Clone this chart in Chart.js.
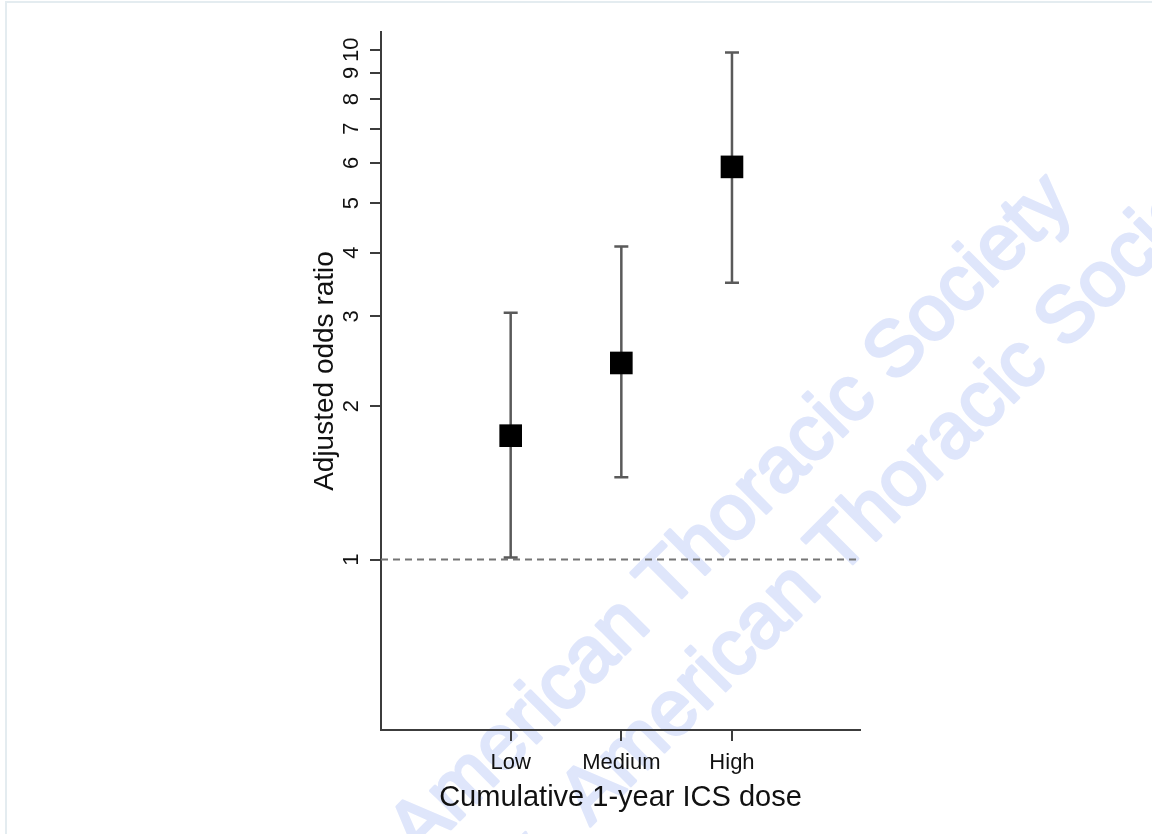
<!DOCTYPE html>
<html>
<head>
<meta charset="utf-8">
<script src="https://cdn.jsdelivr.net/npm/chart.js@4/dist/chart.umd.min.js"></script>
<style>
  html, body { margin: 0; padding: 0; background: #ffffff; }
  #wrap { position: relative; width: 1152px; height: 834px; }
  canvas { display: block; }
</style>
</head>
<body>
<div id="wrap"><canvas id="c" width="1152" height="834"></canvas></div>
<script>
// ---- data ----
const categories = ['Low', 'Medium', 'High'];
const categoryPositions = [1, 2, 3];
const oddsRatio = [1.75, 2.43, 5.89];
const ciLower = [1.01, 1.45, 3.49];
const ciUpper = [3.05, 4.11, 9.87];
const yTickValues = [1, 2, 3, 4, 5, 6, 7, 8, 9, 10];
const referenceValue = 1;
const xRange = [-0.172, 4.157];
const yRange = [0.4633, 10.83];
const xTitle = 'Cumulative 1-year ICS dose';
const yTitle = 'Adjusted odds ratio';
const watermarkText = 'American Thoracic Society';

const FONT = '"Liberation Sans", Arial, Helvetica, sans-serif';
const AXIS_COLOR = '#3c3c3c';
const BAR_COLOR = '#5a5a5a';

const watermarkPlugin = {
  id: 'watermark',
  beforeDraw(chart) {
    const ctx = chart.ctx;
    ctx.save();
    // faint page frame
    ctx.strokeStyle = '#e4ecf0';
    ctx.lineWidth = 2;
    ctx.beginPath();
    ctx.moveTo(6, 834); ctx.lineTo(6, 2); ctx.lineTo(1152, 2);
    ctx.stroke();
    ctx.fillStyle = '#dfe6fb';
    ctx.strokeStyle = '#dfe6fb';
    ctx.lineWidth = 3;
    ctx.lineJoin = 'round';
    ctx.font = '78px ' + FONT;
    ctx.textAlign = 'center';
    ctx.textBaseline = 'middle';
    const w = ctx.measureText(watermarkText).width;
    const lines = [
      { cx: 732, cy: 517, reps: [0] },
      { cx: 903, cy: 483, reps: [0, -1] }
    ];
    lines.forEach(l => {
      ctx.save();
      ctx.translate(l.cx, l.cy);
      ctx.rotate(-Math.PI / 4);
      l.reps.forEach(r => {
        ctx.fillText(watermarkText, r * (w + 50), 0);
        ctx.strokeText(watermarkText, r * (w + 50), 0);
      });
      ctx.restore();
    });
    ctx.restore();
  }
};

const errorBarPlugin = {
  id: 'errorBars',
  beforeDatasetsDraw(chart) {
    const ctx = chart.ctx;
    const xs = chart.scales.x, ys = chart.scales.y;
    const area = chart.chartArea;
    ctx.save();
    // reference line
    ctx.strokeStyle = '#757575';
    ctx.lineWidth = 2;
    ctx.setLineDash([7, 5]);
    const yr = ys.getPixelForValue(referenceValue);
    ctx.beginPath();
    ctx.moveTo(area.left, yr);
    ctx.lineTo(area.right, yr);
    ctx.stroke();
    ctx.setLineDash([]);
    // error bars
    ctx.strokeStyle = BAR_COLOR;
    ctx.lineWidth = 2.5;
    categoryPositions.forEach((p, i) => {
      const x = xs.getPixelForValue(p);
      const yl = ys.getPixelForValue(ciLower[i]);
      const yu = ys.getPixelForValue(ciUpper[i]);
      ctx.beginPath();
      ctx.moveTo(x, yl); ctx.lineTo(x, yu);
      ctx.moveTo(x - 7, yl); ctx.lineTo(x + 7, yl);
      ctx.moveTo(x - 7, yu); ctx.lineTo(x + 7, yu);
      ctx.stroke();
    });
    ctx.restore();
  }
};

const labelsPlugin = {
  id: 'axisText',
  afterDraw(chart) {
    const ctx = chart.ctx;
    const ys = chart.scales.y;
    const area = chart.chartArea;
    ctx.save();
    ctx.fillStyle = '#111';
    // y tick labels (rotated)
    ctx.font = '22px ' + FONT;
    ctx.textAlign = 'center';
    ctx.textBaseline = 'alphabetic';
    yTickValues.forEach(v => {
      const y = ys.getPixelForValue(v);
      ctx.save();
      ctx.translate(358, y);
      ctx.rotate(-Math.PI / 2);
      ctx.fillText(String(v), 0, 0);
      ctx.restore();
    });
    // y title
    ctx.font = '28px ' + FONT;
    ctx.save();
    ctx.translate(333, 371);
    ctx.rotate(-Math.PI / 2);
    ctx.fillText(yTitle, 0, 0);
    ctx.restore();
    // x title
    ctx.font = '29px ' + FONT;
    ctx.fillText(xTitle, (area.left + area.right) / 2, 806);
    ctx.restore();
  }
};

new Chart(document.getElementById('c'), {
  type: 'scatter',
  data: {
    datasets: [{
      data: categoryPositions.map((p, i) => ({ x: p, y: oddsRatio[i] })),
      pointStyle: 'rect',
      pointRadius: 16,
      pointHoverRadius: 16,
      backgroundColor: '#000',
      borderColor: '#000',
      borderWidth: 0
    }]
  },
  options: {
    responsive: false,
    animation: false,
    events: [],
    layout: { padding: { top: 32, right: 292, bottom: 0, left: 0 } },
    plugins: { legend: { display: false }, tooltip: { enabled: false } },
    scales: {
      x: {
        type: 'linear',
        position: 'bottom',
        min: xRange[0],
        max: xRange[1],
        afterBuildTicks: s => { s.ticks = categoryPositions.map(v => ({ value: v })); },
        afterFit: s => { s.height = 104; },
        grid: { drawOnChartArea: false, drawTicks: true, tickLength: 11, color: AXIS_COLOR, lineWidth: 2 },
        border: { display: true, color: AXIS_COLOR, width: 2 },
        ticks: {
          autoSkip: false, maxRotation: 0, minRotation: 0, padding: 9,
          color: '#111', font: { size: 22, family: FONT },
          callback: v => { const i = categoryPositions.indexOf(v); return i >= 0 ? categories[i] : ''; }
        },
        title: { display: false }
      },
      y: {
        type: 'logarithmic',
        position: 'left',
        min: yRange[0],
        max: yRange[1],
        afterBuildTicks: s => { s.ticks = yTickValues.map(v => ({ value: v })); },
        afterFit: s => { s.width = 381; },
        grid: { drawOnChartArea: false, drawTicks: true, tickLength: 11, color: AXIS_COLOR, lineWidth: 2 },
        border: { display: true, color: AXIS_COLOR, width: 2 },
        ticks: { display: false },
        title: { display: false }
      }
    }
  },
  plugins: [watermarkPlugin, errorBarPlugin, labelsPlugin]
});
</script>
</body>
</html>
